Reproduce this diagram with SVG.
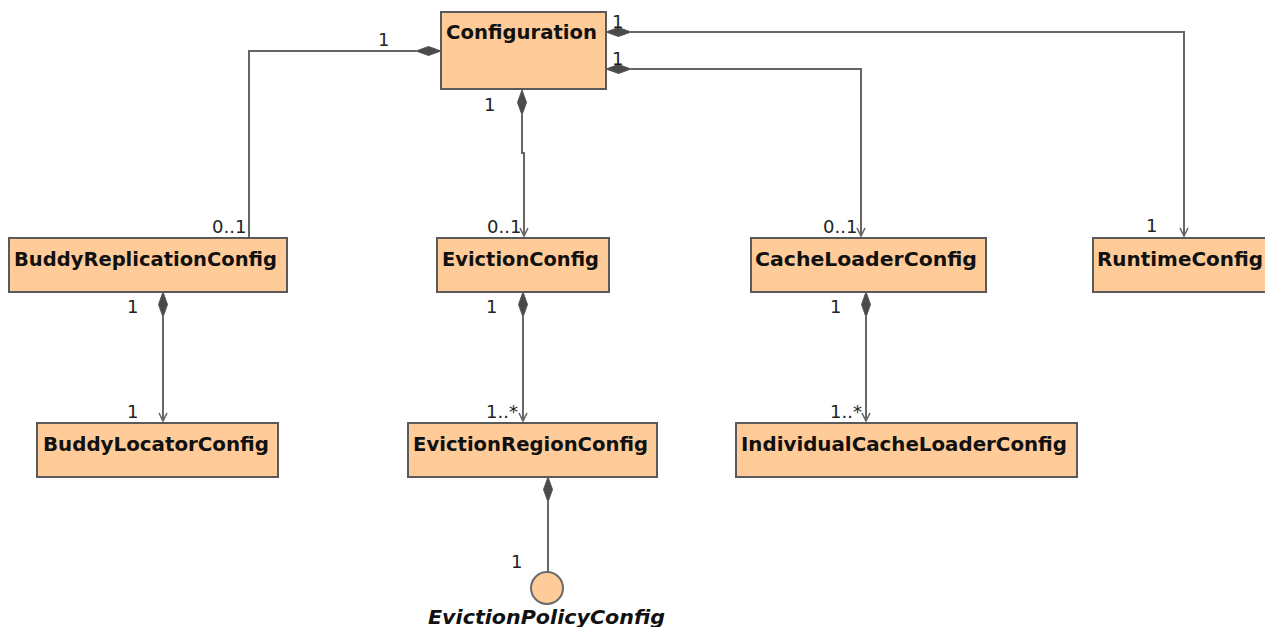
<svg xmlns="http://www.w3.org/2000/svg" width="1265" height="627" viewBox="0 0 1265 627">
<style>
.box{fill:#FFCC99;stroke:#5a5a5a;stroke-width:2}
.name{font-family:"DejaVu Sans",Verdana,sans-serif;font-weight:bold;font-size:19px;fill:#111}
.lbl{font-family:"DejaVu Sans",Verdana,sans-serif;font-size:18px;fill:#222}
.ln{fill:none;stroke:#666;stroke-width:2}
.dia{fill:#4a4a4a;stroke:#555;stroke-width:1}
</style>
<defs>
<marker id="arr" markerUnits="userSpaceOnUse" markerWidth="12" markerHeight="12" refX="9" refY="5" orient="auto">
<path d="M1,1 L9,5 L1,9" fill="none" stroke="#666" stroke-width="1.6"/>
</marker>
</defs>
<rect width="1265" height="627" fill="#fff"/>
<g id="connectors">
<path class="ln" d="M416,51 H249 V238"/>
<polygon class="dia" points="441,51 428.5,46.5 416,51 428.5,55.5"/>
<path class="ln" d="M522,115 V153 H524 V236" marker-end="url(#arr)"/>
<polygon class="dia" points="522,90 526.5,102.5 522,115 517.5,102.5"/>
<path class="ln" d="M631,69 H861 V236" marker-end="url(#arr)"/>
<polygon class="dia" points="606,69 618.5,64.5 631,69 618.5,73.5"/>
<path class="ln" d="M631,32 H1184 V236" marker-end="url(#arr)"/>
<polygon class="dia" points="606,32 618.5,27.5 631,32 618.5,36.5"/>
<path class="ln" d="M163,317 V421" marker-end="url(#arr)"/>
<polygon class="dia" points="163,292 167.5,304.5 163,317 158.5,304.5"/>
<path class="ln" d="M523,317 V421" marker-end="url(#arr)"/>
<polygon class="dia" points="523,292 527.5,304.5 523,317 518.5,304.5"/>
<path class="ln" d="M866,317 V421" marker-end="url(#arr)"/>
<polygon class="dia" points="866,292 870.5,304.5 866,317 861.5,304.5"/>
<path class="ln" d="M548,502 V572"/>
<polygon class="dia" points="548,477 552.5,489.5 548,502 543.5,489.5"/>
<text class="lbl" x="378" y="46">1</text>
<text class="lbl" x="212" y="233">0..1</text>
<text class="lbl" x="484" y="111">1</text>
<text class="lbl" x="487" y="233">0..1</text>
<text class="lbl" x="612" y="28">1</text>
<text class="lbl" x="612" y="65">1</text>
<text class="lbl" x="823" y="233">0..1</text>
<text class="lbl" x="1146" y="232">1</text>
<text class="lbl" x="127" y="313">1</text>
<text class="lbl" x="127" y="418">1</text>
<text class="lbl" x="486" y="313">1</text>
<text class="lbl" x="486" y="418">1..*</text>
<text class="lbl" x="830" y="313">1</text>
<text class="lbl" x="830" y="418">1..*</text>
<text class="lbl" x="511" y="568">1</text>
</g>
<g id="Configuration">
<rect class="box" x="441" y="12" width="165" height="77"/>
<text class="name" x="446" y="39" textLength="151" lengthAdjust="spacingAndGlyphs">Configuration</text>
</g>
<g id="BuddyReplicationConfig">
<rect class="box" x="9" y="238" width="278" height="54"/>
<text class="name" x="14" y="266" textLength="263" lengthAdjust="spacingAndGlyphs">BuddyReplicationConfig</text>
</g>
<g id="EvictionConfig">
<rect class="box" x="437" y="238" width="172" height="54"/>
<text class="name" x="442" y="266" textLength="157" lengthAdjust="spacingAndGlyphs">EvictionConfig</text>
</g>
<g id="CacheLoaderConfig">
<rect class="box" x="751" y="238" width="235" height="54"/>
<text class="name" x="755" y="266" textLength="222" lengthAdjust="spacingAndGlyphs">CacheLoaderConfig</text>
</g>
<g id="RuntimeConfig">
<rect class="box" x="1093" y="238" width="185" height="54"/>
<text class="name" x="1097" y="266" textLength="166" lengthAdjust="spacingAndGlyphs">RuntimeConfig</text>
</g>
<g id="BuddyLocatorConfig">
<rect class="box" x="37" y="423" width="241" height="54"/>
<text class="name" x="43" y="451" textLength="226" lengthAdjust="spacingAndGlyphs">BuddyLocatorConfig</text>
</g>
<g id="EvictionRegionConfig">
<rect class="box" x="408" y="423" width="249" height="54"/>
<text class="name" x="413" y="451" textLength="235" lengthAdjust="spacingAndGlyphs">EvictionRegionConfig</text>
</g>
<g id="IndividualCacheLoaderConfig">
<rect class="box" x="736" y="423" width="341" height="54"/>
<text class="name" x="741" y="451" textLength="326" lengthAdjust="spacingAndGlyphs">IndividualCacheLoaderConfig</text>
</g>
<g id="EvictionPolicyConfig">
<circle cx="547" cy="588" r="16" fill="#FFCC99" stroke="#6a6a6a" stroke-width="2"/>
<text class="name" x="428" y="624" font-style="italic" textLength="237" lengthAdjust="spacingAndGlyphs">EvictionPolicyConfig</text>
</g>
</svg>
